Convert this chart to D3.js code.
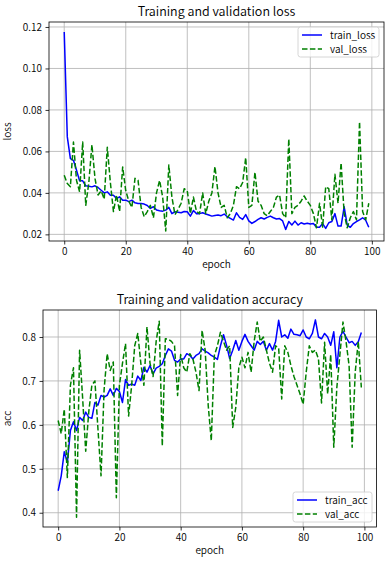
<!DOCTYPE html>
<html><head><meta charset="utf-8">
<script src="https://cdn.jsdelivr.net/npm/d3@7/dist/d3.min.js"></script>
<style>
body{margin:0;background:#fff}
svg{display:block}
text{font-family:"Noto Sans CJK JP","Noto Sans",sans-serif;fill:#000;font-weight:350}
</style>
</head><body>
<svg id="chart" width="391" height="566"></svg>
<script>
const epochs = d3.range(100);
const trainLoss = [0.1176,0.067,0.0565,0.0557,0.0509,0.0458,0.0458,0.0434,0.0432,0.0429,
0.0434,0.0426,0.0413,0.0400,0.0405,0.0389,0.0389,0.0373,0.0381,0.0365,
0.0365,0.0358,0.0365,0.0352,0.0349,0.0349,0.0346,0.0339,0.0325,0.0333,
0.0317,0.0314,0.0312,0.0317,0.0330,0.0300,0.0309,0.0307,0.0304,0.0310,
0.0309,0.0288,0.0315,0.0300,0.0300,0.0304,0.0298,0.0293,0.0288,0.0291,
0.0293,0.0290,0.0298,0.0285,0.0277,0.0269,0.0304,0.0282,0.0272,0.0295,
0.0265,0.0253,0.0262,0.0272,0.0280,0.0274,0.0282,0.0288,0.0280,0.0274,
0.0276,0.0265,0.0224,0.0262,0.0245,0.0264,0.0245,0.0256,0.0250,0.0254,
0.0250,0.0252,0.0234,0.0234,0.0252,0.0229,0.0256,0.0262,0.0300,0.0240,
0.0240,0.0333,0.0245,0.0234,0.0252,0.0262,0.0270,0.0280,0.0268,0.0234];
const valLoss = [0.0485,0.0445,0.043,0.0645,0.046,0.0405,0.0645,0.034,0.045,0.0632,
0.047,0.039,0.041,0.037,0.062,0.045,0.031,0.039,0.031,0.0525,
0.041,0.036,0.033,0.047,0.046,0.033,0.0285,0.031,0.034,0.028,
0.040,0.046,0.038,0.0216,0.0535,0.038,0.0295,0.032,0.035,0.042,
0.041,0.030,0.038,0.031,0.030,0.040,0.030,0.036,0.040,0.0527,
0.040,0.033,0.034,0.028,0.030,0.034,0.043,0.042,0.045,0.057,
0.033,0.034,0.050,0.036,0.034,0.030,0.029,0.031,0.033,0.038,
0.039,0.030,0.028,0.066,0.030,0.033,0.034,0.036,0.0385,0.036,
0.034,0.030,0.0232,0.035,0.0235,0.043,0.042,0.027,0.049,0.035,
0.0545,0.030,0.0232,0.028,0.031,0.027,0.0743,0.031,0.027,0.035];
const trainAcc = [0.450,0.484,0.539,0.514,0.587,0.607,0.587,0.617,0.610,0.629,
0.617,0.615,0.651,0.645,0.667,0.663,0.667,0.682,0.667,0.683,
0.676,0.651,0.703,0.690,0.693,0.690,0.711,0.701,0.731,0.720,
0.735,0.716,0.729,0.733,0.739,0.758,0.773,0.768,0.747,0.743,
0.750,0.750,0.762,0.758,0.750,0.758,0.762,0.773,0.768,0.764,
0.758,0.754,0.749,0.780,0.805,0.781,0.751,0.770,0.792,0.770,
0.790,0.806,0.790,0.780,0.770,0.790,0.783,0.790,0.770,0.785,
0.770,0.790,0.838,0.800,0.805,0.797,0.818,0.806,0.805,0.803,
0.816,0.800,0.796,0.808,0.839,0.800,0.796,0.808,0.800,0.781,
0.812,0.730,0.800,0.813,0.800,0.787,0.790,0.781,0.789,0.810];
const valAcc = [0.61,0.58,0.636,0.48,0.69,0.73,0.39,0.77,0.66,0.54,
0.63,0.69,0.70,0.59,0.484,0.68,0.762,0.724,0.743,0.434,
0.69,0.74,0.785,0.62,0.69,0.78,0.808,0.74,0.69,0.823,
0.74,0.71,0.79,0.836,0.552,0.796,0.795,0.79,0.78,0.667,
0.76,0.73,0.72,0.762,0.75,0.72,0.678,0.815,0.77,0.644,
0.564,0.758,0.78,0.811,0.79,0.77,0.78,0.594,0.64,0.73,
0.754,0.73,0.765,0.72,0.79,0.834,0.79,0.80,0.77,0.74,
0.72,0.78,0.775,0.659,0.78,0.765,0.735,0.71,0.69,0.67,
0.647,0.72,0.78,0.765,0.77,0.75,0.65,0.788,0.67,0.76,
0.549,0.685,0.76,0.834,0.79,0.735,0.549,0.72,0.79,0.685];
const xTicks = [0,20,40,60,80,100];
const lossTicks = [0.02,0.04,0.06,0.08,0.10,0.12];
const accTicks = [0.4,0.5,0.6,0.7,0.8];

const FONT = '"Noto Sans CJK JP","Noto Sans",sans-serif';
const svg = d3.select("#chart");
svg.append("rect").attr("width",391).attr("height",566).attr("fill","#fff");

function pad(lo, hi){ const m=(hi-lo)*0.05; return [lo-m, hi+m]; }

function panel(cfg){
  const {left,right,top,bottom} = cfg.box;
  const xs = d3.scaleLinear().domain(pad(0,99)).range([left,right]);
  const all = cfg.series.flatMap(s=>s.values);
  const ys = d3.scaleLinear().domain(pad(d3.min(all), d3.max(all))).range([bottom,top]);
  const g = svg.append("g");
  g.append("g").selectAll("line").data(cfg.xTicks).join("line")
    .attr("x1",d=>xs(d)).attr("x2",d=>xs(d)).attr("y1",top).attr("y2",bottom)
    .attr("stroke","#b0b0b0").attr("stroke-width",0.8);
  g.append("g").selectAll("line").data(cfg.yTicks).join("line")
    .attr("y1",d=>ys(d)).attr("y2",d=>ys(d)).attr("x1",left).attr("x2",right)
    .attr("stroke","#b0b0b0").attr("stroke-width",0.8);
  cfg.series.forEach(s=>{
    const line = d3.line().x((d,i)=>xs(epochs[i])).y(d=>ys(d));
    g.append("path").datum(s.values).attr("d",line).attr("fill","none")
      .attr("stroke",s.color).attr("stroke-width",1.5)
      .attr("stroke-dasharray",s.dash||null).attr("stroke-linejoin","round");
  });
  const xa = d3.axisBottom(xs).tickValues(cfg.xTicks).tickSize(3.5).tickPadding(3.5).tickFormat(d3.format("d"));
  const ya = d3.axisLeft(ys).tickValues(cfg.yTicks).tickSize(3.5).tickPadding(3.5).tickFormat(cfg.yFmt);
  const gx = g.append("g").attr("transform",`translate(0,${bottom})`).call(xa);
  const gy = g.append("g").attr("transform",`translate(${left},0)`).call(ya);
  [gx,gy].forEach(a=>{
    a.select(".domain").remove();
    a.selectAll("line").attr("stroke","#000").attr("stroke-width",0.8);
    a.selectAll("text").attr("font-size",10).attr("font-family",FONT).attr("font-weight",350).attr("fill","#000");
  });
  g.append("rect").attr("x",left).attr("y",top).attr("width",right-left).attr("height",bottom-top)
    .attr("fill","none").attr("stroke","#000").attr("stroke-width",0.8);
  g.append("text").attr("x",(left+right)/2).attr("y",top-6).attr("text-anchor","middle")
    .attr("font-size",12.5).text(cfg.title);
  g.append("text").attr("x",(left+right)/2).attr("y",bottom+27).attr("text-anchor","middle")
    .attr("font-size",10).text("epoch");
  g.append("text").attr("transform",`translate(${cfg.ylabX},${(top+bottom)/2}) rotate(-90)`)
    .attr("text-anchor","middle").attr("font-size",10).text(cfg.ylabel);
  const L = cfg.legend;
  const lg = g.append("g").attr("transform",`translate(${L.x},${L.y})`);
  lg.append("rect").attr("width",L.w).attr("height",L.h).attr("rx",2.5)
    .attr("fill","#fff").attr("fill-opacity",0.8).attr("stroke","#cccccc").attr("stroke-width",0.8);
  cfg.series.forEach((s,i)=>{
    const cy = 8 + i*14;
    lg.append("line").attr("x1",4).attr("x2",24).attr("y1",cy).attr("y2",cy)
      .attr("stroke",s.color).attr("stroke-width",1.5).attr("stroke-dasharray",s.dash||null);
    lg.append("text").attr("x",32).attr("y",cy+3.5).attr("font-size",10).text(s.name);
  });
}

panel({
  box:{left:49,right:384,top:22,bottom:241},
  series:[{name:"train_loss",values:trainLoss,color:"blue"},
          {name:"val_loss",values:valLoss,color:"green",dash:"5.5,2.4"}],
  xTicks:xTicks, yTicks:lossTicks, yFmt:d3.format(".2f"),
  title:"Training and validation loss", ylabel:"loss", ylabX:11,
  legend:{x:298,y:27,w:81,h:30}
});
panel({
  box:{left:43,right:376.5,top:310,bottom:527},
  series:[{name:"train_acc",values:trainAcc,color:"blue"},
          {name:"val_acc",values:valAcc,color:"green",dash:"5.5,2.4"}],
  xTicks:xTicks, yTicks:accTicks, yFmt:d3.format(".1f"),
  title:"Training and validation accuracy", ylabel:"acc", ylabX:11,
  legend:{x:293,y:492,w:79,h:30}
});
</script>
</body></html>
